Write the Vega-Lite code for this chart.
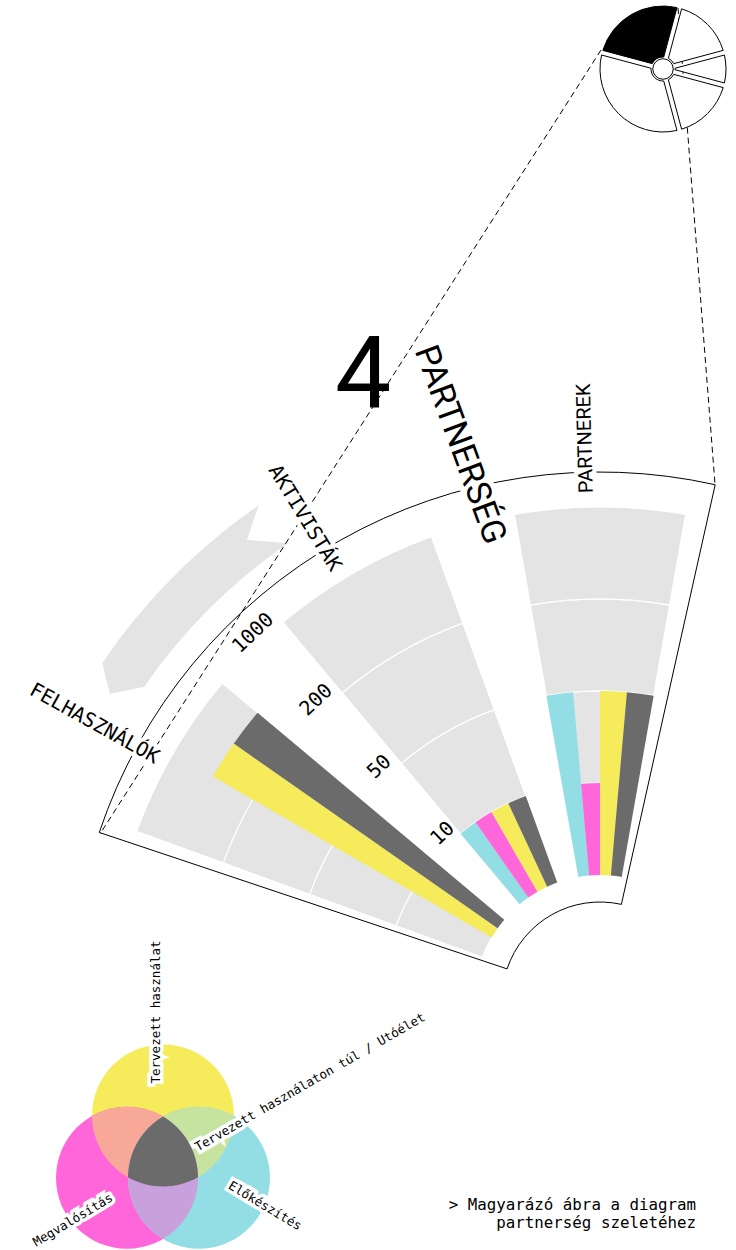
{
  "$schema": "https://vega.github.io/schema/vega-lite/v6.json",
  "width": 736,
  "height": 1250,
  "autosize": "none",
  "padding": 0,
  "background": "white",
  "config": {"view": {"stroke": null}},
  "datasets": {
    "pie": [
      {"slice": "Partnerség", "share": 90, "n": 1},
      {"slice": "A", "share": 60, "n": 2},
      {"slice": "B", "share": 30, "n": 3},
      {"slice": "C", "share": 60, "n": 4},
      {"slice": "D", "share": 120, "n": 5}
    ],
    "bands": [
      {"group": "Felhasználók", "lo": 0, "hi": 10},
      {"group": "Felhasználók", "lo": 10, "hi": 50},
      {"group": "Felhasználók", "lo": 50, "hi": 200},
      {"group": "Felhasználók", "lo": 200, "hi": 1000},
      {"group": "Aktivisták", "lo": 0, "hi": 10},
      {"group": "Aktivisták", "lo": 10, "hi": 50},
      {"group": "Aktivisták", "lo": 50, "hi": 200},
      {"group": "Aktivisták", "lo": 200, "hi": 1000},
      {"group": "Partnerek", "lo": 0, "hi": 10},
      {"group": "Partnerek", "lo": 10, "hi": 50},
      {"group": "Partnerek", "lo": 50, "hi": 200},
      {"group": "Partnerek", "lo": 200, "hi": 1000}
    ],
    "bars": [
      {"group": "Felhasználók", "phase": "Előkészítés", "value": 0},
      {"group": "Felhasználók", "phase": "Megvalósítás", "value": 0},
      {"group": "Felhasználók", "phase": "Tervezett használat", "value": 600},
      {"group": "Felhasználók", "phase": "Utóélet", "value": 600},
      {"group": "Aktivisták", "phase": "Előkészítés", "value": 10},
      {"group": "Aktivisták", "phase": "Megvalósítás", "value": 10},
      {"group": "Aktivisták", "phase": "Tervezett használat", "value": 10},
      {"group": "Aktivisták", "phase": "Utóélet", "value": 10},
      {"group": "Partnerek", "phase": "Előkészítés", "value": 50},
      {"group": "Partnerek", "phase": "Megvalósítás", "value": 10},
      {"group": "Partnerek", "phase": "Tervezett használat", "value": 50},
      {"group": "Partnerek", "phase": "Utóélet", "value": 50}
    ],
    "rings": [{"ring": 10}, {"ring": 50}, {"ring": 200}, {"ring": 1000}],
    "venn": [
      {"region": "Tervezett használat"},
      {"region": "Megvalósítás"},
      {"region": "Előkészítés"},
      {"region": "Tervezett használat × Megvalósítás"},
      {"region": "Tervezett használat × Előkészítés"},
      {"region": "Megvalósítás × Előkészítés"},
      {"region": "Tervezett használaton túl / Utóélet"}
    ]
  },
  "resolve": {"scale": {"theta": "independent", "radius": "independent", "fill": "independent", "shape": "independent", "color": "independent"}},
  "layer": [
    {
      "data": {"values": [{"item": "nyíl"}]},
      "mark": {"type": "point", "shape": "M -4.902 -3.063 L -4.977 -3.368 A 6.01 6.01 0 0 1 -3.413 -4.947 L -3.531 -4.601 L -3.116 -4.568 A 5.53 5.53 0 0 0 -4.557 -3.132 Z", "size": 40000, "filled": true, "fill": "#e3e4e3", "opacity": 1, "strokeWidth": 0},
      "encoding": {
        "x": {"datum": 600, "type": "quantitative", "scale": {"domain": [0, 736], "nice": false, "zero": false}, "axis": null},
        "y": {"datum": 1000, "type": "quantitative", "scale": {"domain": [1250, 0], "nice": false, "zero": false}, "axis": null}
      }
    },
    {
      "data": {"name": "bands"},
      "mark": {"type": "arc", "fill": "#e3e4e3", "stroke": "white", "strokeWidth": 1.2},
      "encoding": {
        "x": {"datum": 600, "type": "quantitative", "scale": {"domain": [0, 736], "nice": false, "zero": false}, "axis": null},
        "y": {"datum": 1000, "type": "quantitative", "scale": {"domain": [1250, 0], "nice": false, "zero": false}, "axis": null},
        "theta": {"field": "group", "type": "nominal", "scale": {"type": "band", "domain": ["Felhasználók", "Aktivisták", "Partnerek"], "range": [-1.2217304764, 0.1745329252], "paddingInner": 0.3333333, "paddingOuter": 0}},
        "radius": {"field": "hi", "type": "quantitative", "stack": null, "scale": {"type": "linear", "domain": [0, 10, 50, 200, 1000], "range": [125, 217, 309, 401, 493], "zero": false, "nice": false}},
        "radius2": {"field": "lo"}
      }
    },
    {
      "data": {"name": "bars"},
      "transform": [{"calculate": "datum.group + '|' + datum.phase", "as": "slot"}],
      "mark": {"type": "arc"},
      "encoding": {
        "x": {"datum": 600, "type": "quantitative", "scale": {"domain": [0, 736], "nice": false, "zero": false}, "axis": null},
        "y": {"datum": 1000, "type": "quantitative", "scale": {"domain": [1250, 0], "nice": false, "zero": false}, "axis": null},
        "theta": {"field": "slot", "type": "nominal", "scale": {"type": "band", "domain": ["Felhasználók|Előkészítés", "Felhasználók|Megvalósítás", "Felhasználók|Tervezett használat", "Felhasználók|Utóélet", "gap1", "gap2", "Aktivisták|Előkészítés", "Aktivisták|Megvalósítás", "Aktivisták|Tervezett használat", "Aktivisták|Utóélet", "gap3", "gap4", "Partnerek|Előkészítés", "Partnerek|Megvalósítás", "Partnerek|Tervezett használat", "Partnerek|Utóélet"], "range": [-1.2217304764, 0.1745329252], "paddingInner": 0, "paddingOuter": 0}},
        "radius": {"field": "value", "type": "quantitative", "stack": null, "scale": {"type": "linear", "domain": [0, 10, 50, 200, 1000], "range": [125, 217, 309, 401, 493], "zero": false, "nice": false}},
        "radius2": {"datum": 0},
        "fill": {"field": "phase", "type": "nominal", "scale": {"domain": ["Előkészítés", "Megvalósítás", "Tervezett használat", "Utóélet"], "range": ["#93dde5", "#fe66d9", "#f5eb5b", "#6b6b6b"]}, "legend": null}
      }
    },
    {
      "data": {"values": [{"item": "keret"}]},
      "mark": {"type": "arc", "filled": false, "color": "black", "strokeWidth": 1, "radius": 528, "radius2": 98},
      "encoding": {
        "x": {"datum": 600, "type": "quantitative", "scale": {"domain": [0, 736], "nice": false, "zero": false}, "axis": null},
        "y": {"datum": 1000, "type": "quantitative", "scale": {"domain": [1250, 0], "nice": false, "zero": false}, "axis": null},
        "theta": {"datum": -71.5, "type": "quantitative", "scale": {"type": "linear", "domain": [0, 360], "range": [0, 6.283185307], "zero": false, "nice": false}},
        "theta2": {"datum": 12.6}
      }
    },
    {
      "data": {"values": [{"item": "vonal1"}]},
      "mark": {"type": "rule", "strokeDash": [6, 4], "strokeWidth": 1, "color": "black"},
      "encoding": {
        "x": {"datum": 601, "type": "quantitative", "scale": {"domain": [0, 736], "nice": false, "zero": false}, "axis": null},
        "y": {"datum": 50, "type": "quantitative", "scale": {"domain": [1250, 0], "nice": false, "zero": false}, "axis": null},
        "x2": {"datum": 100},
        "y2": {"datum": 834}
      }
    },
    {
      "data": {"values": [{"item": "vonal2"}]},
      "mark": {"type": "rule", "strokeDash": [6, 4], "strokeWidth": 1, "color": "black"},
      "encoding": {
        "x": {"datum": 678, "type": "quantitative", "scale": {"domain": [0, 736], "nice": false, "zero": false}, "axis": null},
        "y": {"datum": 8, "type": "quantitative", "scale": {"domain": [1250, 0], "nice": false, "zero": false}, "axis": null},
        "x2": {"datum": 715},
        "y2": {"datum": 484}
      }
    },
    {
      "data": {"name": "pie"},
      "mark": {"type": "arc", "radius": 63, "radius2": 12, "padAngle": 0.075, "stroke": "black", "strokeWidth": 1},
      "encoding": {
        "x": {"datum": 663, "type": "quantitative", "scale": {"domain": [0, 736], "nice": false, "zero": false}, "axis": null},
        "y": {"datum": 69, "type": "quantitative", "scale": {"domain": [1250, 0], "nice": false, "zero": false}, "axis": null},
        "theta": {"field": "share", "type": "quantitative", "stack": true, "scale": {"type": "linear", "domain": [0, 360], "range": [-1.308996939, 4.974188368], "zero": false, "nice": false}},
        "order": {"field": "n", "type": "quantitative"},
        "fill": {"field": "slice", "type": "nominal", "scale": {"domain": ["Partnerség", "A", "B", "C", "D"], "range": ["black", "white", "white", "white", "white"]}, "legend": null}
      }
    },
    {
      "data": {"values": [{"item": "közép"}]},
      "mark": {"type": "point", "shape": "circle", "size": 420, "filled": true, "fill": "white", "stroke": "black", "strokeWidth": 1, "opacity": 1},
      "encoding": {
        "x": {"datum": 663, "type": "quantitative", "scale": {"domain": [0, 736], "nice": false, "zero": false}, "axis": null},
        "y": {"datum": 69, "type": "quantitative", "scale": {"domain": [1250, 0], "nice": false, "zero": false}, "axis": null}
      }
    },
    {
      "data": {"name": "rings"},
      "mark": {"type": "text", "font": "DejaVu Sans Mono", "fontSize": 20, "angle": 316.5, "align": "center", "baseline": "bottom", "radiusOffset": 2, "color": "black"},
      "encoding": {
        "x": {"datum": 600, "type": "quantitative", "scale": {"domain": [0, 736], "nice": false, "zero": false}, "axis": null},
        "y": {"datum": 1000, "type": "quantitative", "scale": {"domain": [1250, 0], "nice": false, "zero": false}, "axis": null},
        "theta": {"datum": -43.4, "type": "quantitative", "scale": {"type": "linear", "domain": [0, 360], "range": [0, 6.283185307], "zero": false, "nice": false}},
        "radius": {"field": "ring", "type": "quantitative", "scale": {"type": "linear", "domain": [0, 10, 50, 200, 1000], "range": [125, 217, 309, 401, 493], "zero": false, "nice": false}},
        "text": {"field": "ring", "type": "nominal"}
      }
    },
    {
      "data": {"values": [{"label": "FELHASZNÁLÓK"}]},
      "mark": {"type": "text", "font": "DejaVu Sans Mono", "fontSize": 20, "angle": 29, "align": "right", "baseline": "middle", "radiusOffset": 11, "color": "white", "stroke": "white", "strokeWidth": 8},
      "encoding": {
        "x": {"datum": 600, "type": "quantitative", "scale": {"domain": [0, 736], "nice": false, "zero": false}, "axis": null},
        "y": {"datum": 1000, "type": "quantitative", "scale": {"domain": [1250, 0], "nice": false, "zero": false}, "axis": null},
        "theta": {"datum": -61.4, "type": "quantitative", "scale": {"type": "linear", "domain": [0, 360], "range": [0, 6.283185307], "zero": false, "nice": false}},
        "radius": {"datum": 1000, "type": "quantitative", "scale": {"type": "linear", "domain": [0, 10, 50, 200, 1000], "range": [125, 217, 309, 401, 493], "zero": false, "nice": false}},
        "text": {"field": "label", "type": "nominal"}
      }
    },
    {
      "data": {"values": [{"label": "FELHASZNÁLÓK"}]},
      "mark": {"type": "text", "font": "DejaVu Sans Mono", "fontSize": 20, "angle": 29, "align": "right", "baseline": "middle", "radiusOffset": 11, "color": "black"},
      "encoding": {
        "x": {"datum": 600, "type": "quantitative", "scale": {"domain": [0, 736], "nice": false, "zero": false}, "axis": null},
        "y": {"datum": 1000, "type": "quantitative", "scale": {"domain": [1250, 0], "nice": false, "zero": false}, "axis": null},
        "theta": {"datum": -61.4, "type": "quantitative", "scale": {"type": "linear", "domain": [0, 360], "range": [0, 6.283185307], "zero": false, "nice": false}},
        "radius": {"datum": 1000, "type": "quantitative", "scale": {"type": "linear", "domain": [0, 10, 50, 200, 1000], "range": [125, 217, 309, 401, 493], "zero": false, "nice": false}},
        "text": {"field": "label", "type": "nominal"}
      }
    },
    {
      "data": {"values": [{"label": "AKTIVISTÁK"}]},
      "mark": {"type": "text", "font": "DejaVu Sans Mono", "fontSize": 20, "angle": 58.5, "align": "right", "baseline": "middle", "radiusOffset": 12, "color": "white", "stroke": "white", "strokeWidth": 8},
      "encoding": {
        "x": {"datum": 600, "type": "quantitative", "scale": {"domain": [0, 736], "nice": false, "zero": false}, "axis": null},
        "y": {"datum": 1000, "type": "quantitative", "scale": {"domain": [1250, 0], "nice": false, "zero": false}, "axis": null},
        "theta": {"datum": -31.5, "type": "quantitative", "scale": {"type": "linear", "domain": [0, 360], "range": [0, 6.283185307], "zero": false, "nice": false}},
        "radius": {"datum": 1000, "type": "quantitative", "scale": {"type": "linear", "domain": [0, 10, 50, 200, 1000], "range": [125, 217, 309, 401, 493], "zero": false, "nice": false}},
        "text": {"field": "label", "type": "nominal"}
      }
    },
    {
      "data": {"values": [{"label": "AKTIVISTÁK"}]},
      "mark": {"type": "text", "font": "DejaVu Sans Mono", "fontSize": 20, "angle": 58.5, "align": "right", "baseline": "middle", "radiusOffset": 12, "color": "black"},
      "encoding": {
        "x": {"datum": 600, "type": "quantitative", "scale": {"domain": [0, 736], "nice": false, "zero": false}, "axis": null},
        "y": {"datum": 1000, "type": "quantitative", "scale": {"domain": [1250, 0], "nice": false, "zero": false}, "axis": null},
        "theta": {"datum": -31.5, "type": "quantitative", "scale": {"type": "linear", "domain": [0, 360], "range": [0, 6.283185307], "zero": false, "nice": false}},
        "radius": {"datum": 1000, "type": "quantitative", "scale": {"type": "linear", "domain": [0, 10, 50, 200, 1000], "range": [125, 217, 309, 401, 493], "zero": false, "nice": false}},
        "text": {"field": "label", "type": "nominal"}
      }
    },
    {
      "data": {"values": [{"label": "PARTNEREK"}]},
      "mark": {"type": "text", "font": "Roboto", "fontSize": 20, "angle": 268.5, "align": "left", "baseline": "middle", "radiusOffset": 14, "color": "white", "stroke": "white", "strokeWidth": 8},
      "encoding": {
        "x": {"datum": 600, "type": "quantitative", "scale": {"domain": [0, 736], "nice": false, "zero": false}, "axis": null},
        "y": {"datum": 1000, "type": "quantitative", "scale": {"domain": [1250, 0], "nice": false, "zero": false}, "axis": null},
        "theta": {"datum": -1.5, "type": "quantitative", "scale": {"type": "linear", "domain": [0, 360], "range": [0, 6.283185307], "zero": false, "nice": false}},
        "radius": {"datum": 1000, "type": "quantitative", "scale": {"type": "linear", "domain": [0, 10, 50, 200, 1000], "range": [125, 217, 309, 401, 493], "zero": false, "nice": false}},
        "text": {"field": "label", "type": "nominal"}
      }
    },
    {
      "data": {"values": [{"label": "PARTNEREK"}]},
      "mark": {"type": "text", "font": "Roboto", "fontSize": 20, "angle": 268.5, "align": "left", "baseline": "middle", "radiusOffset": 14, "color": "black"},
      "encoding": {
        "x": {"datum": 600, "type": "quantitative", "scale": {"domain": [0, 736], "nice": false, "zero": false}, "axis": null},
        "y": {"datum": 1000, "type": "quantitative", "scale": {"domain": [1250, 0], "nice": false, "zero": false}, "axis": null},
        "theta": {"datum": -1.5, "type": "quantitative", "scale": {"type": "linear", "domain": [0, 360], "range": [0, 6.283185307], "zero": false, "nice": false}},
        "radius": {"datum": 1000, "type": "quantitative", "scale": {"type": "linear", "domain": [0, 10, 50, 200, 1000], "range": [125, 217, 309, 401, 493], "zero": false, "nice": false}},
        "text": {"field": "label", "type": "nominal"}
      }
    },
    {
      "data": {"values": [{"label": "PARTNERSÉG"}]},
      "mark": {"type": "text", "font": "Roboto", "fontSize": 34, "angle": 70, "align": "right", "baseline": "middle", "radiusOffset": -24, "color": "white", "stroke": "white", "strokeWidth": 10},
      "encoding": {
        "x": {"datum": 600, "type": "quantitative", "scale": {"domain": [0, 736], "nice": false, "zero": false}, "axis": null},
        "y": {"datum": 1000, "type": "quantitative", "scale": {"domain": [1250, 0], "nice": false, "zero": false}, "axis": null},
        "theta": {"datum": -12.9, "type": "quantitative", "scale": {"type": "linear", "domain": [0, 360], "range": [0, 6.283185307], "zero": false, "nice": false}},
        "radius": {"datum": 1000, "type": "quantitative", "scale": {"type": "linear", "domain": [0, 10, 50, 200, 1000], "range": [125, 217, 309, 401, 493], "zero": false, "nice": false}},
        "text": {"field": "label", "type": "nominal"}
      }
    },
    {
      "data": {"values": [{"label": "PARTNERSÉG"}]},
      "mark": {"type": "text", "font": "Roboto", "fontSize": 34, "angle": 70, "align": "right", "baseline": "middle", "radiusOffset": -24, "color": "black"},
      "encoding": {
        "x": {"datum": 600, "type": "quantitative", "scale": {"domain": [0, 736], "nice": false, "zero": false}, "axis": null},
        "y": {"datum": 1000, "type": "quantitative", "scale": {"domain": [1250, 0], "nice": false, "zero": false}, "axis": null},
        "theta": {"datum": -12.9, "type": "quantitative", "scale": {"type": "linear", "domain": [0, 360], "range": [0, 6.283185307], "zero": false, "nice": false}},
        "radius": {"datum": 1000, "type": "quantitative", "scale": {"type": "linear", "domain": [0, 10, 50, 200, 1000], "range": [125, 217, 309, 401, 493], "zero": false, "nice": false}},
        "text": {"field": "label", "type": "nominal"}
      }
    },
    {
      "data": {"values": [{"label": "4"}]},
      "mark": {"type": "text", "font": "Roboto", "fontSize": 100, "align": "center", "baseline": "alphabetic", "color": "black"},
      "encoding": {
        "x": {"datum": 363, "type": "quantitative", "scale": {"domain": [0, 736], "nice": false, "zero": false}, "axis": null},
        "y": {"datum": 408, "type": "quantitative", "scale": {"domain": [1250, 0], "nice": false, "zero": false}, "axis": null},
        "text": {"field": "label", "type": "nominal"}
      }
    },
    {
      "data": {"name": "venn"},
      "mark": {"type": "point", "size": 40000, "filled": true, "opacity": 1, "strokeWidth": 0},
      "encoding": {
        "x": {"datum": 163, "type": "quantitative", "scale": {"domain": [0, 736], "nice": false, "zero": false}, "axis": null},
        "y": {"datum": 1157, "type": "quantitative", "scale": {"domain": [1250, 0], "nice": false, "zero": false}, "axis": null},
        "shape": {"field": "region", "type": "nominal", "legend": null, "scale": {"domain": ["Tervezett használat", "Megvalósítás", "Előkészítés", "Tervezett használat × Megvalósítás", "Tervezett használat × Előkészítés", "Megvalósítás × Előkészítés", "Tervezett használaton túl / Utóélet"], "range": [
          "M -0.71 -0.4157 A 0.71 0.71 0 1 1 0.71 -0.4157 A 0.71 0.71 0 1 1 -0.71 -0.4157 Z",
          "M -1.07 0.2078 A 0.71 0.71 0 1 1 0.35 0.2078 A 0.71 0.71 0 1 1 -1.07 0.2078 Z",
          "M -0.35 0.2078 A 0.71 0.71 0 1 1 1.07 0.2078 A 0.71 0.71 0 1 1 -0.35 0.2078 Z",
          "M -0.70998 -0.4099 A 0.71 0.71 0 0 0 0.34998 0.20206 A 0.71 0.71 0 0 0 -0.70998 -0.4099 Z",
          "M 0.70998 -0.4099 A 0.71 0.71 0 0 1 -0.34998 0.20206 A 0.71 0.71 0 0 1 0.70998 -0.4099 Z",
          "M 0 -0.40411 A 0.71 0.71 0 0 1 0 0.81981 A 0.71 0.71 0 0 1 0 -0.40411 Z",
          "M 0 -0.40411 A 0.71 0.71 0 0 1 0.34998 0.20206 A 0.71 0.71 0 0 1 -0.34998 0.20206 A 0.71 0.71 0 0 1 0 -0.40411 Z"
        ]}},
        "fill": {"field": "region", "type": "nominal", "legend": null, "scale": {"domain": ["Tervezett használat", "Megvalósítás", "Előkészítés", "Tervezett használat × Megvalósítás", "Tervezett használat × Előkészítés", "Megvalósítás × Előkészítés", "Tervezett használaton túl / Utóélet"], "range": ["#f5eb5b", "#fe66d9", "#93dde5", "#f8a898", "#c6e39f", "#c8a1dc", "#6b6b6b"]}}
      }
    },
    {
      "data": {"values": [{"label": "Tervezett használat"}]},
      "mark": {"type": "text", "font": "DejaVu Sans Mono", "fontSize": 12.5, "angle": 270, "align": "center", "baseline": "middle", "color": "white", "stroke": "white", "strokeWidth": 7},
      "encoding": {
        "x": {"datum": 156, "type": "quantitative", "scale": {"domain": [0, 736], "nice": false, "zero": false}, "axis": null},
        "y": {"datum": 1012, "type": "quantitative", "scale": {"domain": [1250, 0], "nice": false, "zero": false}, "axis": null},
        "text": {"field": "label", "type": "nominal"}
      }
    },
    {
      "data": {"values": [{"label": "Tervezett használat"}]},
      "mark": {"type": "text", "font": "DejaVu Sans Mono", "fontSize": 12.5, "angle": 270, "align": "center", "baseline": "middle", "color": "black"},
      "encoding": {
        "x": {"datum": 156, "type": "quantitative", "scale": {"domain": [0, 736], "nice": false, "zero": false}, "axis": null},
        "y": {"datum": 1012, "type": "quantitative", "scale": {"domain": [1250, 0], "nice": false, "zero": false}, "axis": null},
        "text": {"field": "label", "type": "nominal"}
      }
    },
    {
      "data": {"values": [{"label": "Tervezett használaton túl / Utóélet"}]},
      "mark": {"type": "text", "font": "DejaVu Sans Mono", "fontSize": 12.5, "angle": 330, "align": "left", "baseline": "middle", "color": "white", "stroke": "white", "strokeWidth": 7},
      "encoding": {
        "x": {"datum": 196, "type": "quantitative", "scale": {"domain": [0, 736], "nice": false, "zero": false}, "axis": null},
        "y": {"datum": 1148, "type": "quantitative", "scale": {"domain": [1250, 0], "nice": false, "zero": false}, "axis": null},
        "text": {"field": "label", "type": "nominal"}
      }
    },
    {
      "data": {"values": [{"label": "Tervezett használaton túl / Utóélet"}]},
      "mark": {"type": "text", "font": "DejaVu Sans Mono", "fontSize": 12.5, "angle": 330, "align": "left", "baseline": "middle", "color": "black"},
      "encoding": {
        "x": {"datum": 196, "type": "quantitative", "scale": {"domain": [0, 736], "nice": false, "zero": false}, "axis": null},
        "y": {"datum": 1148, "type": "quantitative", "scale": {"domain": [1250, 0], "nice": false, "zero": false}, "axis": null},
        "text": {"field": "label", "type": "nominal"}
      }
    },
    {
      "data": {"values": [{"label": "Megvalósítás"}]},
      "mark": {"type": "text", "font": "DejaVu Sans Mono", "fontSize": 12.5, "angle": 329, "align": "center", "baseline": "middle", "color": "white", "stroke": "white", "strokeWidth": 7},
      "encoding": {
        "x": {"datum": 73, "type": "quantitative", "scale": {"domain": [0, 736], "nice": false, "zero": false}, "axis": null},
        "y": {"datum": 1220, "type": "quantitative", "scale": {"domain": [1250, 0], "nice": false, "zero": false}, "axis": null},
        "text": {"field": "label", "type": "nominal"}
      }
    },
    {
      "data": {"values": [{"label": "Megvalósítás"}]},
      "mark": {"type": "text", "font": "DejaVu Sans Mono", "fontSize": 12.5, "angle": 329, "align": "center", "baseline": "middle", "color": "black"},
      "encoding": {
        "x": {"datum": 73, "type": "quantitative", "scale": {"domain": [0, 736], "nice": false, "zero": false}, "axis": null},
        "y": {"datum": 1220, "type": "quantitative", "scale": {"domain": [1250, 0], "nice": false, "zero": false}, "axis": null},
        "text": {"field": "label", "type": "nominal"}
      }
    },
    {
      "data": {"values": [{"label": "Előkészítés"}]},
      "mark": {"type": "text", "font": "DejaVu Sans Mono", "fontSize": 12.5, "angle": 31, "align": "center", "baseline": "middle", "color": "white", "stroke": "white", "strokeWidth": 7},
      "encoding": {
        "x": {"datum": 265, "type": "quantitative", "scale": {"domain": [0, 736], "nice": false, "zero": false}, "axis": null},
        "y": {"datum": 1206, "type": "quantitative", "scale": {"domain": [1250, 0], "nice": false, "zero": false}, "axis": null},
        "text": {"field": "label", "type": "nominal"}
      }
    },
    {
      "data": {"values": [{"label": "Előkészítés"}]},
      "mark": {"type": "text", "font": "DejaVu Sans Mono", "fontSize": 12.5, "angle": 31, "align": "center", "baseline": "middle", "color": "black"},
      "encoding": {
        "x": {"datum": 265, "type": "quantitative", "scale": {"domain": [0, 736], "nice": false, "zero": false}, "axis": null},
        "y": {"datum": 1206, "type": "quantitative", "scale": {"domain": [1250, 0], "nice": false, "zero": false}, "axis": null},
        "text": {"field": "label", "type": "nominal"}
      }
    },
    {
      "data": {"values": [{"label": "> Magyarázó ábra a diagram\npartnerség szeletéhez"}]},
      "mark": {"type": "text", "font": "DejaVu Sans Mono", "fontSize": 15.8, "align": "right", "baseline": "top", "lineBreak": "\n", "lineHeight": 18, "color": "black"},
      "encoding": {
        "x": {"datum": 696, "type": "quantitative", "scale": {"domain": [0, 736], "nice": false, "zero": false}, "axis": null},
        "y": {"datum": 1198, "type": "quantitative", "scale": {"domain": [1250, 0], "nice": false, "zero": false}, "axis": null},
        "text": {"field": "label", "type": "nominal"}
      }
    }
  ]
}
